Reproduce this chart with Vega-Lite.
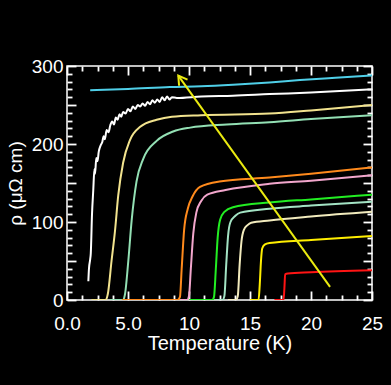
{
  "$schema": "https://vega.github.io/schema/vega-lite/v6.json",
  "width": 305,
  "height": 234,
  "autosize": "none",
  "padding": {"left": 67, "top": 66, "right": 19, "bottom": 85},
  "background": "#000000",
  "config": {
    "view": {"stroke": "#ffffff", "strokeWidth": 1.5},
    "font": "Liberation Sans",
    "axis": {
      "domain": false,
      "tickColor": "#ffffff", "tickWidth": 1.8,
      "labelColor": "#ffffff", "titleColor": "#ffffff",
      "labelFontSize": 19, "titleFontSize": 20, "titleFontWeight": "normal",
      "grid": false
    }
  },
  "datasets": {
    "curves": [
      {"s": "a", "T": 1.9, "rho": 269}, {"s": "a", "T": 5, "rho": 270.5}, {"s": "a", "T": 8.44, "rho": 273}, {"s": "a", "T": 11, "rho": 274}, {"s": "a", "T": 13.6, "rho": 276}, {"s": "a", "T": 16.6, "rho": 279}, {"s": "a", "T": 19.1, "rho": 282}, {"s": "a", "T": 22, "rho": 285}, {"s": "a", "T": 25, "rho": 288},

      {"s": "b", "T": 1.75, "rho": 24}, {"s": "b", "T": 1.8, "rho": 40}, {"s": "b", "T": 1.9, "rho": 52}, {"s": "b", "T": 1.95, "rho": 60}, {"s": "b", "T": 2.05, "rho": 110}, {"s": "b", "T": 2.15, "rho": 140}, {"s": "b", "T": 2.25, "rho": 168}, {"s": "b", "T": 2.3, "rho": 162}, {"s": "b", "T": 2.4, "rho": 182}, {"s": "b", "T": 2.5, "rho": 178}, {"s": "b", "T": 2.6, "rho": 190}, {"s": "b", "T": 2.75, "rho": 198}, {"s": "b", "T": 2.9, "rho": 203}, {"s": "b", "T": 3.0, "rho": 210}, {"s": "b", "T": 3.1, "rho": 206}, {"s": "b", "T": 3.25, "rho": 218}, {"s": "b", "T": 3.4, "rho": 215}, {"s": "b", "T": 3.55, "rho": 224}, {"s": "b", "T": 3.7, "rho": 229}, {"s": "b", "T": 3.85, "rho": 225}, {"s": "b", "T": 4.0, "rho": 234}, {"s": "b", "T": 4.15, "rho": 231}, {"s": "b", "T": 4.3, "rho": 238}, {"s": "b", "T": 4.45, "rho": 235}, {"s": "b", "T": 4.6, "rho": 241}, {"s": "b", "T": 4.8, "rho": 239}, {"s": "b", "T": 5.0, "rho": 245}, {"s": "b", "T": 5.2, "rho": 242}, {"s": "b", "T": 5.4, "rho": 248}, {"s": "b", "T": 5.6, "rho": 245}, {"s": "b", "T": 5.8, "rho": 250}, {"s": "b", "T": 6.0, "rho": 248}, {"s": "b", "T": 6.2, "rho": 252}, {"s": "b", "T": 6.4, "rho": 249}, {"s": "b", "T": 6.6, "rho": 254}, {"s": "b", "T": 6.8, "rho": 251}, {"s": "b", "T": 7.0, "rho": 256}, {"s": "b", "T": 7.2, "rho": 253}, {"s": "b", "T": 7.4, "rho": 257}, {"s": "b", "T": 7.6, "rho": 254}, {"s": "b", "T": 7.8, "rho": 260}, {"s": "b", "T": 8.0, "rho": 256}, {"s": "b", "T": 8.2, "rho": 261}, {"s": "b", "T": 8.4, "rho": 257}, {"s": "b", "T": 8.6, "rho": 260}, {"s": "b", "T": 9, "rho": 259}, {"s": "b", "T": 11, "rho": 261}, {"s": "b", "T": 13.6, "rho": 262}, {"s": "b", "T": 16.6, "rho": 264}, {"s": "b", "T": 20, "rho": 266}, {"s": "b", "T": 25, "rho": 270},

      {"s": "c", "T": 2.0, "rho": 0}, {"s": "c", "T": 3.15, "rho": 0}, {"s": "c", "T": 3.35, "rho": 8}, {"s": "c", "T": 3.65, "rho": 50}, {"s": "c", "T": 3.93, "rho": 88}, {"s": "c", "T": 4.2, "rho": 134}, {"s": "c", "T": 4.6, "rho": 176}, {"s": "c", "T": 5.16, "rho": 205}, {"s": "c", "T": 6.0, "rho": 222}, {"s": "c", "T": 7.35, "rho": 231}, {"s": "c", "T": 8.6, "rho": 235}, {"s": "c", "T": 11, "rho": 237}, {"s": "c", "T": 16.6, "rho": 239}, {"s": "c", "T": 20, "rho": 243}, {"s": "c", "T": 25, "rho": 250},

      {"s": "d", "T": 3.5, "rho": 0}, {"s": "d", "T": 4.6, "rho": 0}, {"s": "d", "T": 4.75, "rho": 7}, {"s": "d", "T": 5.03, "rho": 51}, {"s": "d", "T": 5.3, "rho": 102}, {"s": "d", "T": 5.7, "rho": 152}, {"s": "d", "T": 6.25, "rho": 181}, {"s": "d", "T": 7.35, "rho": 204}, {"s": "d", "T": 8.7, "rho": 216}, {"s": "d", "T": 10.1, "rho": 221}, {"s": "d", "T": 13.1, "rho": 225}, {"s": "d", "T": 16.6, "rho": 228}, {"s": "d", "T": 20, "rho": 232}, {"s": "d", "T": 25, "rho": 237},

      {"s": "e", "T": 4.5, "rho": 0}, {"s": "e", "T": 9.05, "rho": 0}, {"s": "e", "T": 9.26, "rho": 4}, {"s": "e", "T": 9.4, "rho": 40}, {"s": "e", "T": 9.6, "rho": 90}, {"s": "e", "T": 9.9, "rho": 117}, {"s": "e", "T": 10.3, "rho": 133}, {"s": "e", "T": 10.9, "rho": 145}, {"s": "e", "T": 12.5, "rho": 152}, {"s": "e", "T": 16.6, "rho": 157}, {"s": "e", "T": 20, "rho": 162}, {"s": "e", "T": 25, "rho": 170},

      {"s": "f", "T": 9.3, "rho": 0}, {"s": "f", "T": 9.85, "rho": 0}, {"s": "f", "T": 10.0, "rho": 5}, {"s": "f", "T": 10.15, "rho": 40}, {"s": "f", "T": 10.35, "rho": 85}, {"s": "f", "T": 10.6, "rho": 112}, {"s": "f", "T": 11.0, "rho": 127}, {"s": "f", "T": 11.5, "rho": 135}, {"s": "f", "T": 13, "rho": 141}, {"s": "f", "T": 16.6, "rho": 149}, {"s": "f", "T": 20, "rho": 153}, {"s": "f", "T": 25, "rho": 160},

      {"s": "g", "T": 10.0, "rho": 0}, {"s": "g", "T": 11.9, "rho": 0}, {"s": "g", "T": 12.05, "rho": 4}, {"s": "g", "T": 12.2, "rho": 40}, {"s": "g", "T": 12.35, "rho": 80}, {"s": "g", "T": 12.55, "rho": 103}, {"s": "g", "T": 12.9, "rho": 113}, {"s": "g", "T": 13.6, "rho": 119}, {"s": "g", "T": 16.6, "rho": 125}, {"s": "g", "T": 20, "rho": 129}, {"s": "g", "T": 25, "rho": 135},

      {"s": "h", "T": 12.2, "rho": 0}, {"s": "h", "T": 12.75, "rho": 0}, {"s": "h", "T": 12.9, "rho": 5}, {"s": "h", "T": 13.05, "rho": 45}, {"s": "h", "T": 13.2, "rho": 82}, {"s": "h", "T": 13.4, "rho": 100}, {"s": "h", "T": 13.8, "rho": 108}, {"s": "h", "T": 14.2, "rho": 112}, {"s": "h", "T": 16.6, "rho": 117}, {"s": "h", "T": 20, "rho": 121}, {"s": "h", "T": 25, "rho": 126},

      {"s": "i", "T": 13.2, "rho": 0}, {"s": "i", "T": 13.85, "rho": 0}, {"s": "i", "T": 14.0, "rho": 5}, {"s": "i", "T": 14.15, "rho": 45}, {"s": "i", "T": 14.3, "rho": 75}, {"s": "i", "T": 14.5, "rho": 90}, {"s": "i", "T": 14.8, "rho": 96}, {"s": "i", "T": 15.1, "rho": 99}, {"s": "i", "T": 16.6, "rho": 102}, {"s": "i", "T": 20, "rho": 107}, {"s": "i", "T": 25, "rho": 113},

      {"s": "j", "T": 15.0, "rho": 0}, {"s": "j", "T": 15.7, "rho": 0}, {"s": "j", "T": 15.8, "rho": 20}, {"s": "j", "T": 15.9, "rho": 50}, {"s": "j", "T": 16.0, "rho": 66}, {"s": "j", "T": 16.2, "rho": 71}, {"s": "j", "T": 16.6, "rho": 73}, {"s": "j", "T": 20, "rho": 77}, {"s": "j", "T": 25, "rho": 82},

      {"s": "k", "T": 17.0, "rho": 0}, {"s": "k", "T": 17.75, "rho": 0}, {"s": "k", "T": 17.82, "rho": 15}, {"s": "k", "T": 17.88, "rho": 33}, {"s": "k", "T": 18.1, "rho": 34}, {"s": "k", "T": 20, "rho": 35.5}, {"s": "k", "T": 25, "rho": 38}
    ],
    "arrow": [
      {"T1": 21.56, "r1": 16.8, "T2": 9.12, "r2": 287.6}
    ],
    "anchor": [
      {"T": 0, "rho": 0}
    ]
  },
  "layer": [
    {
      "data": {"name": "curves"},
      "mark": {"type": "line", "strokeWidth": 2, "interpolate": "monotone", "clip": true},
      "encoding": {
        "x": {
          "field": "T", "type": "quantitative",
          "scale": {"domain": [0, 25], "nice": false, "zero": false},
          "axis": {
            "orient": "bottom",
            "values": [0, 5, 10, 15, 20, 25],
            "labelExpr": "datum.value < 10 ? format(datum.value, '.1f') : format(datum.value, 'd')",
            "tickSize": 9, "offset": -9,
            "labelPadding": 14,
            "labelFlush": false,
            "labelOverlap": false,
            "title": "Temperature (K)",
            "titlePadding": 0
          }
        },
        "y": {
          "field": "rho", "type": "quantitative",
          "scale": {"domain": [0, 300], "nice": false},
          "axis": {
            "orient": "left",
            "values": [0, 50, 100, 150, 200, 250, 300],
            "labelExpr": "datum.value % 100 === 0 ? format(datum.value, 'd') : ''",
            "tickSize": 9, "offset": -9,
            "labelPadding": 4,
            "labelFlush": false,
            "labelOverlap": false,
            "title": "ρ (μΩ cm)",
            "titleFontSize": 19,
            "titlePadding": 6
          }
        },
        "color": {
          "field": "s", "type": "nominal", "legend": null,
          "scale": {
            "domain": ["a", "b", "c", "d", "e", "f", "g", "h", "i", "j", "k"],
            "range": ["#4fcfe8", "#ffffff", "#f2e38e", "#93e0b4", "#ff8a1c", "#f2a6cc", "#22ee22", "#a3e3c4", "#f2ebbd", "#ffee00", "#ff1414"]
          }
        },
        "detail": {"field": "s"}
      }
    },
    {
      "data": {"name": "anchor"},
      "mark": {"type": "point", "opacity": 0},
      "encoding": {
        "x": {
          "field": "T", "type": "quantitative",
          "axis": {"orient": "top", "labels": false, "title": null, "values": [0, 5, 10, 15, 20, 25], "tickSize": 9, "offset": -9}
        },
        "y": {
          "field": "rho", "type": "quantitative",
          "axis": {"orient": "right", "labels": false, "title": null, "values": [0, 50, 100, 150, 200, 250, 300], "tickSize": 9, "offset": -9}
        }
      }
    },
    {
      "data": {"name": "anchor"},
      "mark": {"type": "point", "opacity": 0},
      "encoding": {
        "x": {
          "field": "T", "type": "quantitative",
          "axis": {"orient": "bottom", "labels": false, "title": null, "values": [1.25, 2.5, 3.75, 6.25, 7.5, 8.75, 11.25, 12.5, 13.75, 16.25, 17.5, 18.75, 21.25, 22.5, 23.75], "tickSize": 5, "offset": -5}
        },
        "y": {
          "field": "rho", "type": "quantitative",
          "axis": {"orient": "left", "labels": false, "title": null, "values": [10, 20, 30, 40, 60, 70, 80, 90, 110, 120, 130, 140, 160, 170, 180, 190, 210, 220, 230, 240, 260, 270, 280, 290], "tickSize": 5, "offset": -5}
        }
      }
    },
    {
      "data": {"name": "anchor"},
      "mark": {"type": "point", "opacity": 0},
      "encoding": {
        "x": {
          "field": "T", "type": "quantitative",
          "axis": {"orient": "top", "labels": false, "title": null, "values": [1.25, 2.5, 3.75, 6.25, 7.5, 8.75, 11.25, 12.5, 13.75, 16.25, 17.5, 18.75, 21.25, 22.5, 23.75], "tickSize": 5, "offset": -5}
        },
        "y": {
          "field": "rho", "type": "quantitative",
          "axis": {"orient": "right", "labels": false, "title": null, "values": [10, 20, 30, 40, 60, 70, 80, 90, 110, 120, 130, 140, 160, 170, 180, 190, 210, 220, 230, 240, 260, 270, 280, 290], "tickSize": 5, "offset": -5}
        }
      }
    },
    {
      "data": {"name": "arrow"},
      "mark": {"type": "rule", "color": "#eaea10", "strokeWidth": 2},
      "encoding": {
        "x": {"field": "T1", "type": "quantitative", "axis": null},
        "y": {"field": "r1", "type": "quantitative", "axis": null},
        "x2": {"field": "T2"},
        "y2": {"field": "r2"}
      }
    },
    {
      "data": {"name": "arrow"},
      "mark": {"type": "point", "shape": "M -0.6,1 L 0,0 L 0.6,1", "filled": false, "color": "#eaea10", "strokeWidth": 2, "size": 300, "angle": -35.7, "opacity": 1},
      "encoding": {
        "x": {"field": "T2", "type": "quantitative", "axis": null},
        "y": {"field": "r2", "type": "quantitative", "axis": null}
      }
    }
  ],
  "resolve": {"axis": {"x": "independent", "y": "independent"}}
}
